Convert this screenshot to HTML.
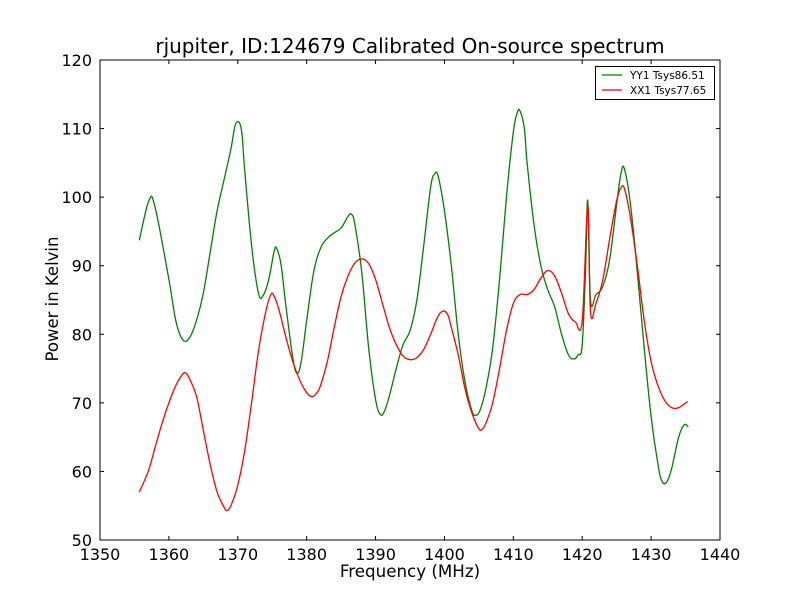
<!DOCTYPE html>
<html><head><meta charset="utf-8"><style>
body{margin:0;background:#fff;}
svg{display:block;font-family:"DejaVu Sans","Liberation Sans",sans-serif;}
</style></head><body>
<svg id="chart" width="800" height="600"></svg>
<script>
const yyFreq=[1355.7,1357.1,1358,1360,1361,1362,1363,1364,1365,1366,1367,1368,1369,1369.7,1370.5,1371,1372,1373,1373.7,1374.5,1375.3,1375.7,1376.3,1377,1378,1378.6,1379.2,1380,1381,1382,1383,1384,1385,1386,1386.5,1387,1388,1389,1390,1390.7,1391.3,1392,1393,1394,1395,1396,1397,1398,1398.6,1399.1,1400,1401,1402,1403,1404,1404.6,1405.2,1406,1407,1408,1409,1410,1410.6,1411,1411.6,1412,1413,1414,1415,1416,1417,1418,1418.8,1419.4,1420,1420.5,1420.8,1421.2,1422,1423,1424,1425,1425.6,1426.1,1427,1428,1429,1430,1431,1431.6,1432.3,1433,1434,1434.8,1435.4];
const yyPower=[93.7,99.5,98.5,88,82,79.2,79.5,82,86,92,98,102.5,107,110.7,110,104,93,86,85.7,88,92.2,92.4,90,84,76.5,74.3,76,82,89,92.5,94,94.8,95.5,97.2,97.5,96,89,78,70.5,68.3,68.8,71,75,78.5,80.5,85,93,101.5,103.4,103,98,90,80,73,68.8,68.2,69,72,78,88,100,109.5,112.4,112.5,110,105,96,90,86.5,84,80,77,76.4,77,78.5,90,99.5,85,85.8,87,91,99,103.3,104.2,99,89,78,68,61,58.5,58.5,60.5,65,66.8,66.5];
const xxFreq=[1355.7,1357,1358,1359,1360,1361,1362,1362.5,1363,1364,1365,1366,1367,1368,1368.4,1369,1370,1371,1372,1373,1374,1374.8,1375.3,1376,1377,1378,1379,1380,1380.8,1381.5,1382,1383,1384,1385,1386,1387,1388,1389,1390,1391,1392,1393,1394,1395,1396,1397,1398,1399,1399.8,1400.5,1401,1402,1403,1404,1405,1405.5,1406,1407,1408,1409,1410,1411,1412,1413,1414,1415,1416,1417,1418,1419,1420,1420.8,1421.2,1422,1423,1424,1425,1425.7,1426.2,1427,1428,1429,1430,1431,1432,1433,1434,1435.3];
const xxPower=[57,60,63.5,67,70,72.5,74.2,74.3,73.5,71,66,61,57,54.8,54.3,55,58,63,70,77.5,83,85.8,85.5,83.5,79.5,76,73.3,71.5,70.9,71.5,72.5,76,81,85.5,88.5,90.4,91,90.3,88,84.5,81,78.5,76.8,76.3,76.6,77.8,80,82.5,83.4,82.8,81,77,72,68.5,66.2,66.2,67,70,75,80.5,84.5,85.8,85.8,86.5,88.2,89.3,88.5,86,83,81.8,82,98.8,83.3,84.5,88,94,99.5,101.5,101,97,90,82,76,72.5,70.3,69.3,69.3,70.2];
const xTicks=[1350,1360,1370,1380,1390,1400,1410,1420,1430,1440];
const yTicks=[50,60,70,80,90,100,110,120];
const L=100,R=720,T=60,B=540;
const xs=v=>L+(v-1350)/90*(R-L);
const ys=v=>B-(v-50)/70*(B-T);
const NS="http://www.w3.org/2000/svg";
const svg=document.getElementById('chart');
function mk(tag,attrs,text){const e=document.createElementNS(NS,tag);for(const k in attrs)e.setAttribute(k,attrs[k]);if(text!==undefined)e.textContent=text;svg.appendChild(e);return e;}
function line(f,p,color,name){
  const P=f.map((v,i)=>[xs(v),ys(p[i])]);
  let d='M'+P[0][0].toFixed(2)+' '+P[0][1].toFixed(2);
  const k=0.18;
  for(let i=0;i<P.length-1;i++){
    const p0=P[Math.max(0,i-1)],p1=P[i],p2=P[i+1],p3=P[Math.min(P.length-1,i+2)];
    const c1=[p1[0]+(p2[0]-p0[0])*k,p1[1]+(p2[1]-p0[1])*k];
    const c2=[p2[0]-(p3[0]-p1[0])*k,p2[1]-(p3[1]-p1[1])*k];
    d+=' C'+c1.map(n=>n.toFixed(2)).join(' ')+' '+c2.map(n=>n.toFixed(2)).join(' ')+' '+p2[0].toFixed(2)+' '+p2[1].toFixed(2);
  }
  const e=mk('path',{d:d,fill:'none',stroke:color,'stroke-width':1.3,'stroke-linejoin':'round'});
  
  
}
line(yyFreq,yyPower,'#008000','series-yy1');
line(xxFreq,xxPower,'#ff0000','series-xx1');
const fr=mk('rect',{x:L,y:T,width:R-L,height:B-T,fill:'none',stroke:'#000','stroke-width':1});


xTicks.forEach(v=>{
  const x=xs(v);
  mk('line',{x1:x,x2:x,y1:B,y2:B-4,stroke:'#000'});
  mk('line',{x1:x,x2:x,y1:T,y2:T+4,stroke:'#000'});
  const t=mk('text',{x:x,y:B+20,'text-anchor':'middle','font-size':16},v);
  
  
});
yTicks.forEach(v=>{
  const y=ys(v);
  mk('line',{x1:L,x2:L+4,y1:y,y2:y,stroke:'#000'});
  mk('line',{x1:R,x2:R-4,y1:y,y2:y,stroke:'#000'});
  const t=mk('text',{x:L-8,y:y+6,'text-anchor':'end','font-size':16},v);
  
  
});
let t=mk('text',{x:410,y:53,'text-anchor':'middle','font-size':20},'rjupiter, ID:124679 Calibrated On-source spectrum');

t=mk('text',{x:410,y:577,'text-anchor':'middle','font-size':16.7},'Frequency (MHz)');

t=mk('text',{x:58,y:299,'text-anchor':'middle','font-size':16.5,transform:'rotate(-90 58 299)'},'Power in Kelvin');

const lg=mk('rect',{x:595.5,y:66.5,width:119,height:33,fill:'#fff',stroke:'#000'});

mk('line',{x1:602,x2:622,y1:75,y2:75,stroke:'#008000','stroke-width':1.3});
mk('line',{x1:602,x2:622,y1:90,y2:90,stroke:'#ff0000','stroke-width':1.3});
t=mk('text',{x:630,y:79,'font-size':10.5},'YY1 Tsys86.51');

t=mk('text',{x:630,y:94,'font-size':10.5},'XX1 Tsys77.65');

</script>
</body></html>
